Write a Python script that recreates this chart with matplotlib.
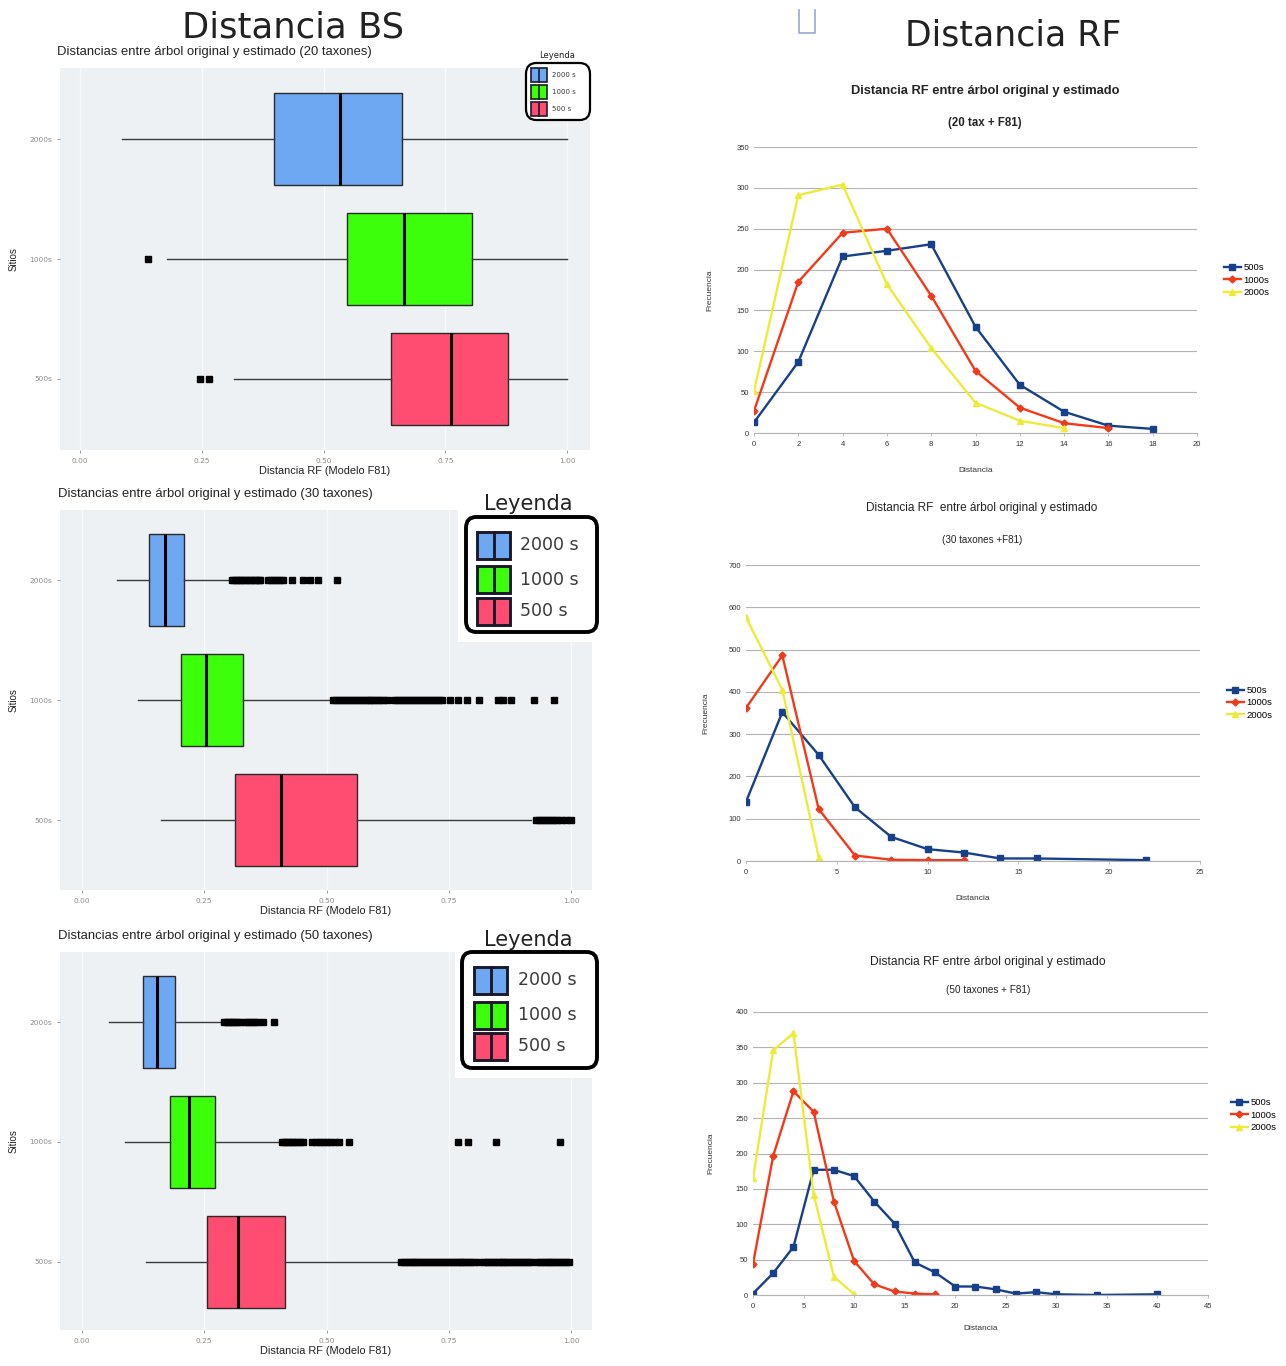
import matplotlib
matplotlib.use("Agg")
import matplotlib.pyplot as plt
from matplotlib.patches import Rectangle, FancyBboxPatch
from matplotlib.lines import Line2D

# ---------------- data: BS distances (box plots) ----------------
box_labels = ["2000s", "1000s", "500s"]

# 20 taxa
bs20_q1 = [0.399, 0.549, 0.639]
bs20_med = [0.533, 0.665, 0.762]
bs20_q3 = [0.661, 0.805, 0.879]
bs20_lo = [0.086, 0.179, 0.317]
bs20_hi = [1.000, 1.000, 1.000]
bs20_out_2000 = []
bs20_out_1000 = [0.140]
bs20_out_500 = [0.246, 0.264]

# 30 taxa
bs30_q1 = [0.137, 0.202, 0.312]
bs30_med = [0.170, 0.253, 0.406]
bs30_q3 = [0.208, 0.329, 0.562]
bs30_lo = [0.071, 0.114, 0.161]
bs30_hi = [0.300, 0.508, 0.918]
bs30_out_2000 = [0.306, 0.311, 0.316, 0.321, 0.326, 0.331, 0.336, 0.341, 0.346,
                 0.351, 0.356, 0.361, 0.365, 0.380, 0.386, 0.392, 0.398, 0.404,
                 0.412, 0.429, 0.451, 0.467, 0.482, 0.522]
bs30_out_1000 = [0.514, 0.520, 0.526, 0.532, 0.538, 0.544, 0.550, 0.556, 0.562,
                 0.568, 0.574, 0.580, 0.586, 0.592, 0.598, 0.604, 0.610, 0.616,
                 0.624, 0.639, 0.645, 0.651, 0.657, 0.663, 0.669, 0.675, 0.681,
                 0.687, 0.693, 0.699, 0.705, 0.711, 0.717, 0.723, 0.730, 0.737,
                 0.753, 0.769, 0.788, 0.812, 0.851, 0.860, 0.878, 0.925, 0.965]
bs30_out_500 = [0.929, 0.935, 0.941, 0.947, 0.953, 0.960, 0.966, 0.972, 0.980,
                0.990, 1.000]

# 50 taxa
bs50_q1 = [0.125, 0.179, 0.256]
bs50_med = [0.154, 0.219, 0.320]
bs50_q3 = [0.191, 0.273, 0.415]
bs50_lo = [0.056, 0.088, 0.131]
bs50_hi = [0.285, 0.400, 0.648]
bs50_out_2000 = [0.291, 0.296, 0.301, 0.306, 0.311, 0.316, 0.323, 0.334, 0.340,
                 0.346, 0.352, 0.358, 0.370, 0.393]
bs50_out_1000 = [0.409, 0.414, 0.419, 0.424, 0.429, 0.434, 0.440, 0.446, 0.452,
                 0.471, 0.479, 0.487, 0.493, 0.500, 0.507, 0.518, 0.526, 0.546,
                 0.769, 0.789, 0.846, 0.977]
bs50_out_500 = [0.652, 0.658, 0.664, 0.670, 0.676, 0.682, 0.688, 0.694, 0.700,
                0.706, 0.712, 0.718, 0.724, 0.730, 0.736, 0.742, 0.748, 0.754,
                0.760, 0.766, 0.772, 0.778, 0.784, 0.790, 0.796, 0.802, 0.812,
                0.822, 0.828, 0.834, 0.840, 0.846, 0.852, 0.858, 0.864, 0.870,
                0.876, 0.882, 0.888, 0.894, 0.900, 0.906, 0.912, 0.918, 0.930,
                0.936, 0.942, 0.948, 0.954, 0.960, 0.966, 0.972, 0.978, 0.984,
                0.990, 0.996]

legend_labels = ["2000 s", "1000 s", "500 s"]
box_colors = ["#6FA8F2", "#3CFF0C", "#FF4D72"]
bs_xticks = [0.00, 0.25, 0.50, 0.75, 1.00]
bs_xticklabels = ["0.00", "0.25", "0.50", "0.75", "1.00"]

# ---------------- data: RF distance frequencies ----------------
rf_series = ["500s", "1000s", "2000s"]

rf20_x_500 = [0, 2, 4, 6, 8, 10, 12, 14, 16, 18]
rf20_y_500 = [13, 87, 216, 223, 231, 130, 59, 26, 9, 5]
rf20_x_1000 = [0, 2, 4, 6, 8, 10, 12, 14, 16]
rf20_y_1000 = [27, 185, 245, 250, 168, 76, 31, 12, 6]
rf20_x_2000 = [0, 2, 4, 6, 8, 10, 12, 14]
rf20_y_2000 = [51, 291, 304, 182, 104, 37, 15, 6]

rf30_x_500 = [0, 2, 4, 6, 8, 10, 12, 14, 16, 22]
rf30_y_500 = [140, 352, 251, 127, 57, 28, 20, 6, 6, 2]
rf30_x_1000 = [0, 2, 4, 6, 8, 10, 12]
rf30_y_1000 = [362, 486, 123, 13, 3, 2, 2]
rf30_x_2000 = [0, 2, 4]
rf30_y_2000 = [576, 405, 10]

rf50_x_500 = [0, 2, 4, 6, 8, 10, 12, 14, 16, 18, 20, 22, 24, 26, 28, 30, 34, 40]
rf50_y_500 = [2, 31, 68, 177, 177, 168, 132, 101, 46, 32, 12, 12, 8, 2, 4, 1, 0, 1]
rf50_x_1000 = [0, 2, 4, 6, 8, 10, 12, 14, 16, 18]
rf50_y_1000 = [44, 197, 288, 259, 132, 48, 15, 5, 2, 1]
rf50_x_2000 = [0, 2, 4, 6, 8, 10]
rf50_y_2000 = [165, 346, 370, 142, 26, 1]

rf_colors = ["#17408A", "#F23A1A", "#EDEB3A"]
rf_markers = ["s", "D", "^"]
rf_msize = [5, 3.5, 4]

# ---------------- figure ----------------
W, H = 1286, 1366
fig = plt.figure(figsize=(W / 100, H / 100), dpi=100)
fig.patch.set_facecolor("white")


def fx(x):
    return x / W


def fy(y):
    return 1 - y / H


def px_axes(x0, y0, x1, y1):
    return fig.add_axes([fx(x0), fy(y1), (x1 - x0) / W, (y1 - y0) / H])


def bs_panel(frame, tick0, tick1, centers, q1, med, q3, lo, hi, outs, subtitle, sub_xy):
    x0, y0, x1, y1 = frame
    ax = px_axes(x0, y0, x1, y1)
    sc = tick1 - tick0
    ax.set_xlim((x0 - tick0) / sc, (x1 - tick0) / sc)
    sp = (centers[2] - centers[0]) / 2
    ax.set_ylim(1 - (y1 - centers[2]) / sp, 3 + (centers[0] - y0) / sp)
    ax.set_facecolor("#EEF1F4")
    for s in ax.spines.values():
        s.set_visible(False)
    ax.set_xticks(bs_xticks)
    ax.set_xticklabels(bs_xticklabels)
    ax.grid(axis="x", color="#F8F9FA", lw=1.0)
    ax.set_axisbelow(True)
    stats = []
    for i in range(3):
        stats.append(dict(med=med[i], q1=q1[i], q3=q3[i], whislo=lo[i],
                          whishi=hi[i], fliers=outs[i], label=box_labels[i]))
    bp = ax.bxp(stats, positions=[3, 2, 1], widths=0.76, orientation="horizontal",
                patch_artist=True, showcaps=False,
                boxprops=dict(edgecolor="#2A2A2A", lw=1.0),
                medianprops=dict(color="black", lw=2.2),
                whiskerprops=dict(color="#3A3A3A", lw=1.0),
                flierprops=dict(marker="s", markerfacecolor="black",
                                markeredgecolor="black", markersize=3.8))
    for patch, c in zip(bp["boxes"], box_colors):
        patch.set_facecolor(c)
    ax.set_yticks([3, 2, 1])
    ax.set_yticklabels(box_labels)
    ax.tick_params(axis="both", labelsize=5.3, labelcolor="#8C8C8C",
                   color="#8C8C8C", length=2, width=0.6)
    ax.set_xlabel("Distancia RF (Modelo F81)", fontsize=7.9, color="#222222",
                  family="Liberation Sans", labelpad=2)
    ax.set_ylabel("Sitios", fontsize=7, color="#222222",
                  family="Liberation Sans", labelpad=8)
    fig.text(fx(sub_xy[0]), fy(sub_xy[1]), subtitle, fontsize=9.4,
             family="Liberation Sans", color="#222222", va="center", ha="left")
    return ax


def bs_legend(frame, title_xy, title_size, ys, sw_x0, sw_x1, sw_h, txt_x, txt_size,
              lw, bg=None):
    if bg is not None:
        bx0, by0, bx1, by1 = bg
        fig.patches.append(Rectangle((fx(bx0), fy(by1)), (bx1 - bx0) / W,
                                     (by1 - by0) / H, transform=fig.transFigure,
                                     facecolor="white", edgecolor="none", zorder=2))
    x0, y0, x1, y1 = frame
    fig.patches.append(FancyBboxPatch((fx(x0), fy(y1)), (x1 - x0) / W, (y1 - y0) / H,
                                      boxstyle="round,pad=0,rounding_size=0.008",
                                      transform=fig.transFigure, facecolor="white",
                                      edgecolor="black", lw=lw, zorder=3))
    fig.text(fx(title_xy[0]), fy(title_xy[1]), "Leyenda", fontsize=title_size,
             family="DejaVu Sans", color="#222222", ha="center", va="center", zorder=4)
    for y, lab, c in zip(ys, legend_labels, box_colors):
        fig.patches.append(Rectangle((fx(sw_x0), fy(y + sw_h / 2)), (sw_x1 - sw_x0) / W,
                                     sw_h / H, transform=fig.transFigure, facecolor=c,
                                     edgecolor="#1A1A2A", lw=lw * 0.75, zorder=4))
        xm = (sw_x0 + sw_x1) / 2
        fig.lines.append(Line2D([fx(xm), fx(xm)], [fy(y - sw_h / 2), fy(y + sw_h / 2)],
                                transform=fig.transFigure, color="#1A1A2A",
                                lw=lw * 0.75, zorder=5))
        fig.text(fx(txt_x), fy(y), lab, fontsize=txt_size, family="DejaVu Sans",
                 color="#3A3A3A", ha="left", va="center", zorder=5)


def rf_panel(frame, xlim, xticks, ylim, yticks, xs, ys, title, subtitle, title_xy,
             sub_xy, bold, tsize, ssize, ylab_x, xlab_y, leg_xy):
    x0, y0, x1, y1 = frame
    ax = px_axes(x0, y0, x1, y1)
    ax.set_xlim(*xlim)
    ax.set_ylim(*ylim)
    ax.set_xticks(xticks)
    ax.set_yticks(yticks)
    for name, s in ax.spines.items():
        s.set_visible(name == "bottom")
    ax.spines["bottom"].set_color("#B3B3B3")
    ax.spines["bottom"].set_linewidth(0.8)
    ax.grid(axis="y", color="#B3B3B3", lw=0.8)
    ax.set_axisbelow(True)
    ax.tick_params(axis="both", labelsize=5.5, labelcolor="#333333", color="#B3B3B3",
                   length=2.5, width=0.6)
    ax.tick_params(axis="y", length=0)
    for lab in ax.get_xticklabels() + ax.get_yticklabels():
        lab.set_family("Liberation Sans")
    handles = []
    for xv, yv, c, m, ms, name in zip(xs, ys, rf_colors, rf_markers, rf_msize, rf_series):
        h, = ax.plot(xv, yv, color=c, lw=1.7, marker=m, markersize=ms,
                     markerfacecolor=c, markeredgecolor=c, label=name)
        handles.append(h)
    fig.text(fx((x0 + x1) / 2), fy(xlab_y), "Distancia", fontsize=6,
             family="Liberation Sans", color="#333333", ha="center", va="center")
    fig.text(fx(ylab_x), fy((y0 + y1) / 2), "Frecuencia", fontsize=6, rotation=90,
             family="Liberation Sans", color="#333333", ha="center", va="center")
    w = "bold" if bold else "normal"
    fig.text(fx(title_xy[0]), fy(title_xy[1]), title, fontsize=tsize, weight=w,
             family="Liberation Sans", color="#222222", ha="center", va="center")
    fig.text(fx(sub_xy[0]), fy(sub_xy[1]), subtitle, fontsize=ssize, weight=w,
             family="Liberation Sans", color="#222222", ha="center", va="center")
    ax.legend(handles=handles, loc="center left",
              bbox_to_anchor=(fx(leg_xy[0]), fy(leg_xy[1])),
              bbox_transform=fig.transFigure, frameon=False,
              prop=dict(family="Liberation Sans", size=6.8), handlelength=1.8,
              handletextpad=0.3, labelspacing=0.35, borderpad=0)
    return ax


# ---------------- left column: BS distances ----------------
fig.text(fx(293), fy(27), "Distancia BS", fontsize=25.5, family="DejaVu Sans",
         color="#222222", ha="center", va="center")

bs_panel((60, 68, 590, 450), 80, 567, (139, 259, 379),
         bs20_q1, bs20_med, bs20_q3, bs20_lo, bs20_hi,
         [bs20_out_2000, bs20_out_1000, bs20_out_500],
         "Distancias entre árbol original y estimado (20 taxones)", (57, 52))
bs_legend((526, 63, 590, 120), (557, 56), 6, (75, 92, 109), 531, 547, 13, 552, 5, 1.6)

bs_panel((60, 510, 592, 890), 82, 571, (580, 700, 820),
         bs30_q1, bs30_med, bs30_q3, bs30_lo, bs30_hi,
         [bs30_out_2000, bs30_out_1000, bs30_out_500],
         "Distancias entre árbol original y estimado (30 taxones)", (58, 494))
bs_legend((466, 517, 597, 632), (528, 504), 15, (545, 580, 611), 477, 510, 27, 520, 12.5,
          2.8, bg=(458, 488, 602, 642))

bs_panel((60, 952, 592, 1330), 82, 571, (1022, 1141, 1262),
         bs50_q1, bs50_med, bs50_q3, bs50_lo, bs50_hi,
         [bs50_out_2000, bs50_out_1000, bs50_out_500],
         "Distancias entre árbol original y estimado (50 taxones)", (58, 936))
bs_legend((462, 952, 597, 1068), (528, 940), 15, (980, 1015, 1046), 474, 507, 27, 518, 12.5,
          2.8, bg=(455, 922, 602, 1078))

# ---------------- right column: RF distances ----------------
fig.text(fx(1013), fy(35), "Distancia RF", fontsize=25, family="DejaVu Sans",
         color="#222222", ha="center", va="center")
# small placeholder bracket next to the heading
fig.lines.append(Line2D([fx(799), fx(799), fx(815), fx(815)],
                        [fy(10), fy(33), fy(33), fy(10)], transform=fig.transFigure,
                        color="#9AA6D6", lw=1.2))

rf_panel((754, 147, 1197, 433), (0, 20), list(range(0, 21, 2)), (0, 350),
         list(range(0, 351, 50)),
         [rf20_x_500, rf20_x_1000, rf20_x_2000], [rf20_y_500, rf20_y_1000, rf20_y_2000],
         "Distancia RF entre árbol original y estimado", "(20 tax + F81)",
         (985, 91), (985, 123), True, 9.3, 8.3, 710, 470, (1219, 280))

rf_panel((746, 565, 1200, 861), (0, 25), list(range(0, 26, 5)), (0, 700),
         list(range(0, 701, 100)),
         [rf30_x_500, rf30_x_1000, rf30_x_2000], [rf30_y_500, rf30_y_1000, rf30_y_2000],
         "Distancia RF  entre árbol original y estimado", "(30 taxones +F81)",
         (982, 508), (982, 540), False, 8.5, 7.1, 706, 899, (1222, 703))

rf_panel((753, 1012, 1208, 1295), (0, 45), list(range(0, 46, 5)), (0, 400),
         list(range(0, 401, 50)),
         [rf50_x_500, rf50_x_1000, rf50_x_2000], [rf50_y_500, rf50_y_1000, rf50_y_2000],
         "Distancia RF entre árbol original y estimado", "(50 taxones + F81)",
         (988, 962), (988, 990), False, 8.7, 7.2, 711, 1328, (1226, 1115))

fig.savefig("out.png", dpi=100, facecolor="white")
